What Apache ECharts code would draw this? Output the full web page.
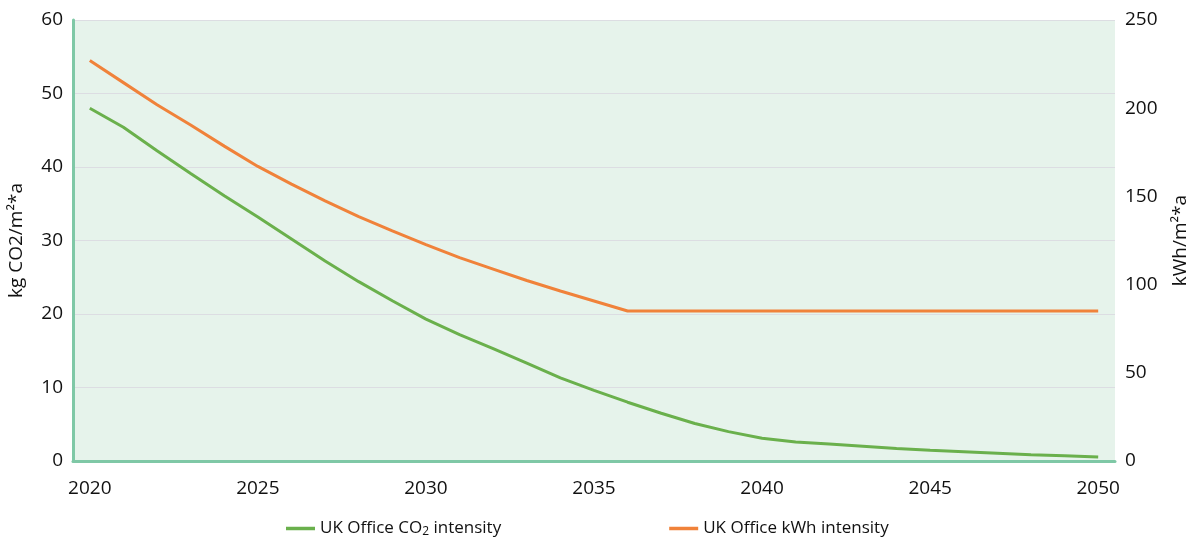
<!DOCTYPE html>
<html>
<head>
<meta charset="utf-8">
<script src="https://cdn.jsdelivr.net/npm/echarts@6/dist/echarts.min.js"></script>
<style>
  html, body { margin: 0; padding: 0; background: #fff; }
  #chart { width: 1195px; height: 539px; }
</style>
</head>
<body>
<div id="chart"></div>
<script>
var years = [];
for (var y = 2020; y <= 2050; y++) years.push(String(y));

// kg CO2/m2*a (left axis)
var co2Intensity = [48, 45.4, 42.2, 39.1, 36.1, 33.2, 30.2, 27.2, 24.4, 21.8, 19.3,
  17.2, 15.3, 13.3, 11.3, 9.6, 8.0, 6.5, 5.1, 4.0, 3.1,
  2.6, 2.3, 2.0, 1.7, 1.45, 1.25, 1.05, 0.85, 0.7, 0.55];

// kWh/m2*a (right axis)
var kwhIntensity = [227, 214.5, 202, 190.5, 178.5, 167, 157, 147.5, 138.5, 130.5, 122.7,
  115.3, 108.8, 102.3, 96.4, 90.7, 85, 85, 85, 85, 85,
  85, 85, 85, 85, 85, 85, 85, 85, 85, 85];

var seriesNames = ['UK Office CO{sub|2} intensity', 'UK Office kWh intensity'];

var font = 'Open Sans';
var ink = '#111';
var chart = echarts.init(document.getElementById('chart'));

chart.setOption({
  animation: false,
  textStyle: { fontFamily: font, color: ink },
  grid: {
    left: 73, right: 80, top: 20, bottom: 78,
    outerBoundsMode: 'none',
    containLabel: false,
    show: true, backgroundColor: '#e6f3eb', borderWidth: 0
  },
  legend: {
    left: 281, top: 515,
    itemGap: 168,
    itemWidth: 29, itemHeight: 3.5,
    icon: 'rect',
    textStyle: {
      fontSize: 17, color: ink, fontFamily: font,
      rich: { sub: { fontSize: 12, verticalAlign: 'bottom', padding: [7, 0, 0, 0], fontFamily: font, color: ink } }
    },
    data: seriesNames
  },
  xAxis: {
    type: 'category',
    data: years,
    boundaryGap: true,
    axisLine: { lineStyle: { color: '#7fc8a6', width: 3 } },
    axisTick: { show: false },
    axisLabel: { interval: 4, fontSize: 19, color: ink, margin: 18, fontFamily: font }
  },
  yAxis: [
    {
      type: 'value', min: 0, max: 60, interval: 10,
      name: 'kg CO2/m²*a', nameLocation: 'middle', nameGap: 47, nameRotate: 90,
      nameTextStyle: { fontSize: 19, color: ink, fontFamily: font },
      axisLine: { show: true, lineStyle: { color: '#7fc8a6', width: 3 } },
      axisTick: { show: false },
      axisLabel: { fontSize: 19, color: ink, margin: 10, fontFamily: font },
      splitLine: { lineStyle: { color: '#dcdde2', width: 1.2 } }
    },
    {
      type: 'value', min: 0, max: 250, interval: 50,
      name: 'kWh/m²*a', nameLocation: 'middle', nameGap: 56, nameRotate: 90,
      nameTextStyle: { fontSize: 19, color: ink, fontFamily: font },
      axisLine: { show: false },
      axisTick: { show: false },
      axisLabel: { fontSize: 19, color: ink, margin: 10, fontFamily: font },
      splitLine: { show: false }
    }
  ],
  series: [
    {
      name: seriesNames[0], type: 'line', yAxisIndex: 0,
      data: co2Intensity, symbol: 'none',
      lineStyle: { color: '#6ab04c', width: 3 }, itemStyle: { color: '#6ab04c' }
    },
    {
      name: seriesNames[1], type: 'line', yAxisIndex: 1,
      data: kwhIntensity, symbol: 'none',
      lineStyle: { color: '#f0823a', width: 3 }, itemStyle: { color: '#f0823a' }
    }
  ]
});
</script>
</body>
</html>
